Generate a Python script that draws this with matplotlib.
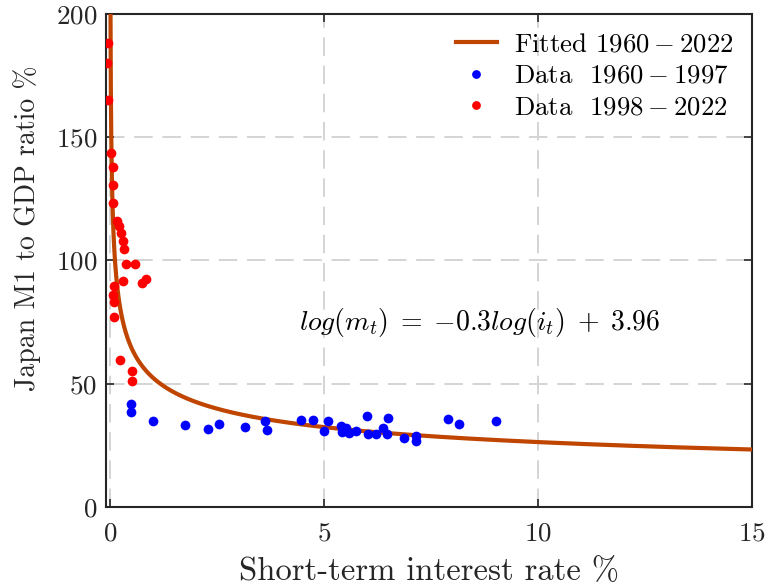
import numpy as np
import matplotlib
matplotlib.use("Agg")
import matplotlib.pyplot as plt

plt.rcParams['font.family'] = 'serif'
plt.rcParams['font.serif'] = ['cmr10']
plt.rcParams['mathtext.fontset'] = 'cm'
plt.rcParams['axes.formatter.use_mathtext'] = True
plt.rcParams['axes.unicode_minus'] = False

# Data 1960-1997 (blue)
blue_rate = [0.49, 0.49, 1.01, 1.76, 2.30, 2.54, 3.16, 3.63, 3.67, 4.47, 4.73, 5.09,
             5.00, 5.39, 5.51, 5.43, 5.58, 5.74, 6.00, 6.03, 6.21, 6.37, 6.50, 6.47,
             6.87, 7.15, 7.15, 7.89, 8.16, 9.01]
blue_m1 = [41.7, 38.7, 35.0, 33.2, 31.6, 33.6, 32.5, 34.7, 31.2, 35.4, 35.2, 34.7,
           30.9, 32.9, 32.2, 30.2, 29.8, 30.6, 37.0, 29.6, 29.6, 32.2, 36.1, 29.6,
           27.9, 28.9, 26.8, 35.7, 33.6, 35.0]

# Data 1998-2022 (red)
red_rate = [-0.04, -0.06, -0.04, 0.02, 0.06, 0.06, 0.06, 0.17, 0.22, 0.25, 0.31, 0.33,
            0.37, 0.59, 0.31, 0.74, 0.84, 0.09, 0.08, 0.09, 0.09, 0.23, 0.51, 0.51]
red_m1 = [188.1, 180.2, 165.3, 143.6, 137.9, 130.5, 123.3, 116.0, 113.8, 111.3, 108.1, 104.8,
          98.4, 98.4, 91.6, 90.8, 92.4, 89.6, 85.8, 83.3, 77.2, 59.8, 55.0, 51.2]

# Fitted model: log(m) = slope*log(i) + intercept
fit_slope = -0.3
fit_intercept = 3.96

xticks = [0, 5, 10, 15]
yticks = [0, 50, 100, 150, 200]

fig = plt.figure(figsize=(7.66, 5.88), dpi=100)
ax = fig.add_axes([0.138, 0.138, 0.844, 0.838])

i_fit = np.linspace(0.005, 15, 3000)
m_fit = np.exp(fit_intercept) * i_fit ** fit_slope
ax.plot(i_fit, m_fit, color='#BF4500', lw=3, label=r'Fitted $1960-2022$', zorder=3)
ax.plot(blue_rate, blue_m1, 'o', color='#0000FF', ms=7, mec='none',
        label=r'Data  $1960-1997$', zorder=4)
ax.plot(red_rate, red_m1, 'o', color='#FF0000', ms=7, mec='none',
        label=r'Data  $1998-2022$', zorder=4)

ax.set_xlim(-0.1, 15)
ax.set_ylim(0, 200)
ax.set_xticks(xticks)
ax.set_yticks(yticks)
ax.grid(True, color='#d4d4d4', ls=(0, (9.5, 5)), lw=1.4)
ax.set_axisbelow(True)
ax.tick_params(direction='in', top=True, right=True, length=6, width=1.2,
               labelsize=19.5, colors='#262626', pad=6)
ax.tick_params(axis='x', pad=11)
for s in ax.spines.values():
    s.set_color('#262626')
    s.set_linewidth(1.5)

ax.set_xlabel('Short-term interest rate %', fontsize=23.5, color='#262626', labelpad=8)
ax.set_ylabel('Japan M1 to GDP ratio %', fontsize=20, color='#262626')
ax.yaxis.set_label_coords(-0.1, 0.566)

ax.text(8.63, 75, r'$log(m_t)\;=\;{-0.3}log(i_t)\;+\;3.96$', fontsize=20,
        ha='center', va='center', color='black')

leg = ax.legend(loc='upper right', frameon=False, fontsize=19.3, markerscale=0.9,
                handlelength=1.5, handletextpad=0.65, labelspacing=0.28,
                borderaxespad=0.3)

fig.savefig('out.png', dpi=100)
